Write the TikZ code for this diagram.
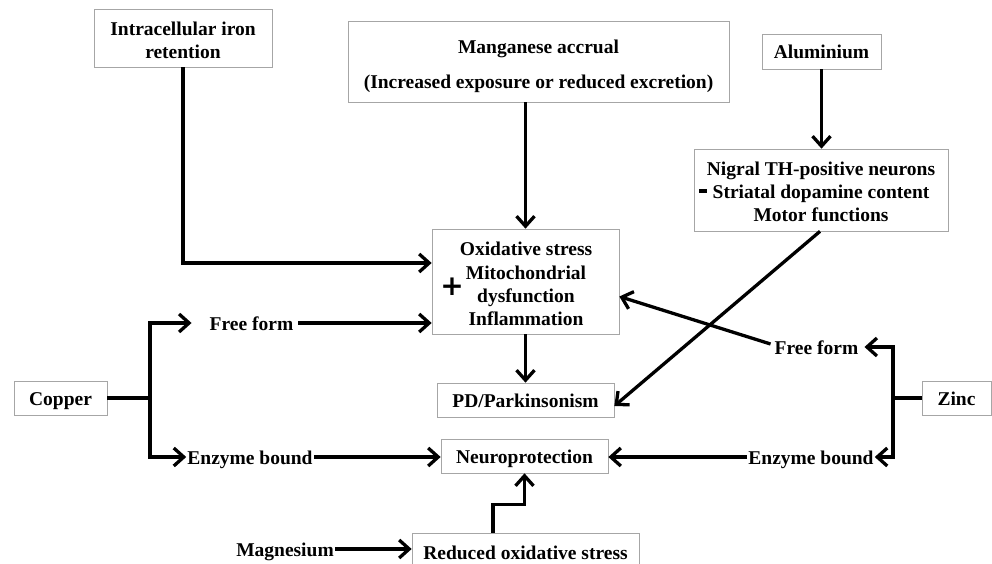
\documentclass[tikz,border=0pt]{standalone}
\usepackage{fontspec}
\setmainfont{Liberation Serif}
\newfontfamily\plusfont{DejaVu Sans}
\usetikzlibrary{arrows.meta}
\begin{document}
\begin{tikzpicture}[x=1pt,y=-1pt,
  box/.style={draw=gray!70,line width=0.7pt,inner sep=0pt,align=center,
    text height=17pt,text depth=2pt,
    font=\fontsize{19.5}{23.2}\selectfont\bfseries},
  frame/.style={draw=gray!70,line width=0.7pt,inner sep=0pt},
  lbl/.style={inner sep=1pt,font=\fontsize{19.5}{23.2}\selectfont\bfseries},
  tag/.style={lbl,text height=15pt,text depth=1pt},
  arr/.style={line width=3.3pt,-{Straight Barb[length=10pt,width=18pt]}},
  ln/.style={line width=3.3pt}]
\useasboundingbox[fill=white] (0,0) rectangle (992,564);
\node[frame,minimum width=178pt,minimum height=58pt] (iron) at (183,38) {};
\node[lbl,align=center] (irontext) at (183,40.5) {Intracellular iron\\retention};
\node[frame,minimum width=381pt,minimum height=81pt] (mn) at (538.5,61.5) {};
\node[lbl,align=center] (mntext) at (538.5,66.5) {Manganese accrual\\[12pt](Increased exposure or reduced excretion)};
\node[box,minimum width=119pt,minimum height=35pt] (al) at (821.5,51.5) {Aluminium};
\node[frame,minimum width=254pt,minimum height=82pt] (ni) at (821,190) {};
\node[lbl,align=center] (nitext) at (821,192) {Nigral TH-positive neurons\\Striatal dopamine content\\Motor functions};
\node[fill=black,inner sep=0pt,minimum width=8pt,minimum height=3.5pt] (minus) at (703,191) {};
\node[frame,minimum width=187pt,minimum height=105pt] (ox) at (525.5,281.5) {};
\node[lbl,align=center] (oxtext) at (526,284) {Oxidative stress\\Mitochondrial\\dysfunction\\Inflammation};
\node[inner sep=0pt,font=\fontsize{28}{28}\selectfont\plusfont\bfseries] (plus) at (452,287) {+};
\node[box,minimum width=177pt,minimum height=34pt] (pd) at (525.5,400) {PD/Parkinsonism};
\node[box,minimum width=93pt,minimum height=34pt] (cu) at (60.5,398) {Copper};
\node[box,minimum width=69pt,minimum height=34pt] (zn) at (956.5,398) {Zinc};
\node[box,minimum width=167pt,minimum height=34pt] (np) at (524.5,456) {Neuroprotection};
\node[box,minimum width=227pt,minimum height=38pt] (ros) at (525.5,552) {Reduced oxidative stress};
\node[tag] (cuff) at (251.5,323) {Free form};
\node[tag] (cueb) at (250,457) {Enzyme bound};
\node[tag] (znff) at (816.5,347) {Free form};
\node[tag] (zneb) at (811,457) {Enzyme bound};
\node[tag] (mg) at (285,549) {Magnesium};
\coordinate (cuj) at (150,398);
\coordinate (znj) at (893,398);
% connectors
\draw[arr] (iron.south) |- ([yshift=18.5pt]ox.west);
\draw[arr] (ox.north |- mn.south) -- (ox.north);
\draw[arr] (al.south) -- (ni.north -| al.south);
\draw[arr] (ox.south) -- (pd.north -| ox.south);
\draw[arr] ([xshift=-1pt]ni.south) -- ([yshift=-6pt]pd.east);
\draw[arr] ([xshift=-3pt,yshift=3pt]znff.west) -- ([yshift=-15pt]ox.east);
\draw[arr] ([xshift=4pt]cuff.east) -- ([yshift=-41.5pt]ox.west);
\draw[ln] (cu.east) -- (cuj);
\draw[arr] (cuj) |- ([xshift=-17pt]cuff.west);
\draw[arr] (cuj) |- (cueb.west);
\draw[arr] (cueb.east) -- (cueb.east -| np.west);
\draw[ln] (zn.west) -- (znj);
\draw[arr] (znj) |- ([xshift=5pt]znff.east);
\draw[arr] (znj) |- (zneb.east);
\draw[arr] (zneb.west) -- (zneb.west -| np.east);
\draw[arr] (mg.east) -- (mg.east -| ros.west);
\draw[arr] ([xshift=-32.5pt]ros.north) -- ++(0,-28) -| (np.south);
\end{tikzpicture}
\end{document}
